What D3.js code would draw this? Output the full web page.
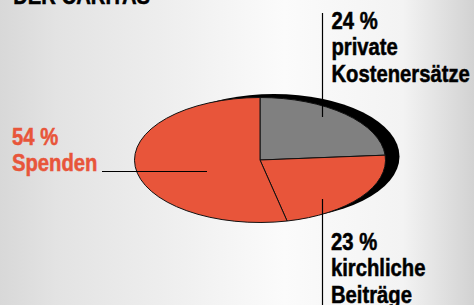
<!DOCTYPE html>
<html><head><meta charset="utf-8">
<script src="https://cdn.jsdelivr.net/npm/d3@7"></script>
<style>
html,body{margin:0;padding:0;overflow:hidden;}
svg{display:block;}
text{font-family:"Liberation Sans","Arial",sans-serif;font-weight:bold;}
</style></head>
<body>
<svg id="c" width="474" height="305"></svg>
<script>
const categories = ["private Kostenersätze", "kirchliche Beiträge", "Spenden"];
const values = [24, 23, 54];
const labelLines = [["24 %", "private", "Kostenersätze"], ["23 %", "kirchliche", "Beiträge"], ["54 %", "Spenden"]];
const title = "DER CARITAS";

const W = 474, H = 305;
const cx = 260, cy = 160, rx = 125.5, ry = 62.5;
const orange = "#e8553a", gray = "#808080";
const fills = [gray, orange, orange];
const FS = 23, SX = 0.88, LH = 26.5;

const svg = d3.select("#c");
const defs = svg.append("defs");
const grad = defs.append("linearGradient").attr("id", "bg").attr("x1", "0").attr("x2", "1").attr("y1", "0").attr("y2", "0");
[[0, "#d8d8d8"], [0.12, "#e3e3e3"], [0.35, "#eeeeee"], [0.6, "#fbfbfb"], [0.85, "#f3f3f3"], [1, "#d2d2d2"]]
  .forEach(([o, c]) => grad.append("stop").attr("offset", o).attr("stop-color", c));
svg.append("rect").attr("width", W).attr("height", H).attr("fill", "url(#bg)");

// title (cut at top edge)
svg.append("g").attr("transform", `translate(150,3.5) scale(${SX},1)`)
  .append("text").attr("text-anchor", "end").attr("font-size", FS).attr("fill", "#000")
  .attr("stroke", "#000").attr("stroke-width", 0.5).text(title);

const pie = d3.pie().sort(null).value(d => d);
const arcs = pie(values);
const arc = d3.arc().innerRadius(0).outerRadius(rx);

// shadow
svg.append("ellipse").attr("cx", cx + 14).attr("cy", cy - 3.5).attr("rx", rx).attr("ry", ry).attr("fill", "#000");

const g = svg.append("g").attr("transform", `translate(${cx},${cy}) scale(1,${ry / rx})`);
g.selectAll("path").data(arcs).join("path")
  .attr("d", arc)
  .attr("fill", (d, i) => fills[i])
  .attr("stroke", "#111")
  .attr("stroke-width", 1)
  .attr("vector-effect", "non-scaling-stroke");

// leader lines
const lines = [
  [[322.5, 13], [322.5, 117]],
  [[322.5, 199], [322.5, 305]],
  [[102, 171.5], [207, 171.5]]
];
svg.selectAll("line.lead").data(lines).join("line").attr("class", "lead")
  .attr("x1", d => d[0][0]).attr("y1", d => d[0][1])
  .attr("x2", d => d[1][0]).attr("y2", d => d[1][1])
  .attr("stroke", "#000").attr("stroke-width", 1.2);

// labels
const labelPos = [[331.5, 29], [331, 250], [12, 145]];
const labelColor = ["#000", "#000", orange];
labelLines.forEach((ls, i) => {
  const t = svg.append("g").attr("transform", `translate(${labelPos[i][0]},${labelPos[i][1]}) scale(${SX},1)`)
    .append("text").attr("font-size", FS).attr("fill", labelColor[i])
    .attr("stroke", labelColor[i]).attr("stroke-width", 0.5);
  ls.forEach((s, j) => t.append("tspan").attr("x", 0).attr("y", j * LH).text(s));
});
</script>
</body></html>
